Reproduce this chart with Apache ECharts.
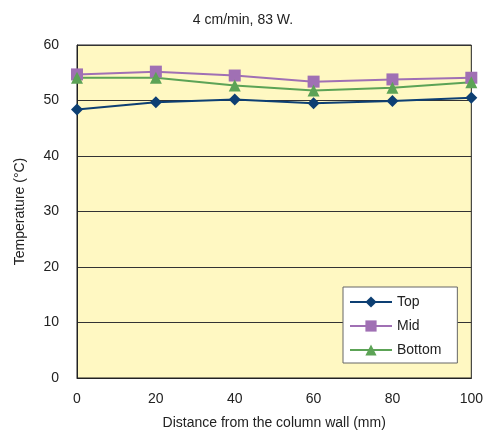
<!DOCTYPE html>
<html><head><meta charset="utf-8">
<script src="https://cdn.jsdelivr.net/npm/echarts@6/dist/echarts.min.js"></script>
<style>html,body{margin:0;padding:0;background:#fff}#c{width:486px;height:435px}</style>
</head><body><div id="c"></div>
<script>
var categories = [0, 20, 40, 60, 80, 100];
var topVals = [48.4, 49.7, 50.2, 49.5, 49.9, 50.5];
var midVals = [54.7, 55.2, 54.5, 53.4, 53.8, 54.1];
var bottomVals = [54.1, 54.1, 52.7, 51.8, 52.3, 53.3];
var seriesNames = ['Top', 'Mid', 'Bottom'];

function pairs(v){ return categories.map(function(x,i){ return [x, v[i]]; }); }
var font = 'Liberation Sans, Arial, sans-serif';
var chart = echarts.init(document.getElementById('c'));
chart.setOption({
  animation: false,
  title: { text: '4 cm/min, 83 W.', left: 'center', top: 8, textStyle: { fontFamily: font, fontSize: 14, fontWeight: 'normal', color: '#222' } },
  grid: { left: 77, right: 14, top: 45, bottom: 57, show: true, backgroundColor: '#fff8c2', borderColor: '#222', borderWidth: 1 },
  xAxis: { type: 'value', min: 0, max: 100, interval: 20,
    name: 'Distance from the column wall (mm)', nameLocation: 'middle', nameGap: 38,
    nameTextStyle: { fontFamily: font, fontSize: 14, color: '#222' },
    axisLine: { show: true, lineStyle: { color: '#222' } }, axisTick: { show: false }, splitLine: { show: false },
    axisLabel: { fontFamily: font, fontSize: 14, color: '#222', margin: 14 } },
  yAxis: { type: 'value', min: 0, max: 60, interval: 10,
    name: 'Temperature (°C)', nameLocation: 'middle', nameGap: 50, nameRotate: 90,
    nameTextStyle: { fontFamily: font, fontSize: 14, color: '#222' },
    axisLine: { show: true, lineStyle: { color: '#222' } }, axisTick: { show: false },
    splitLine: { show: true, lineStyle: { color: '#333', width: 1 } },
    axisLabel: { fontFamily: font, fontSize: 14, color: '#222', margin: 18 } },
  legend: { orient: 'vertical', left: 343, top: 287, width: 113, backgroundColor: '#fff', borderColor: '#666', borderWidth: 1,
    padding: [8, 16, 6, 6], itemGap: 10, itemWidth: 42, itemHeight: 14,
    textStyle: { fontFamily: font, fontSize: 14, color: '#222' }, data: seriesNames },
  series: [
    { name: 'Top', type: 'line', data: pairs(topVals), symbol: 'diamond', symbolSize: 12, color: '#0d3f73', lineStyle: { width: 2, color: '#0d3f73' } },
    { name: 'Mid', type: 'line', data: pairs(midVals), symbol: 'rect', symbolSize: 12, color: '#a070b4', lineStyle: { width: 2, color: '#a070b4' } },
    { name: 'Bottom', type: 'line', data: pairs(bottomVals), symbol: 'triangle', symbolSize: 12, color: '#5ca356', lineStyle: { width: 2, color: '#5ca356' } }
  ]
});
</script></body></html>
